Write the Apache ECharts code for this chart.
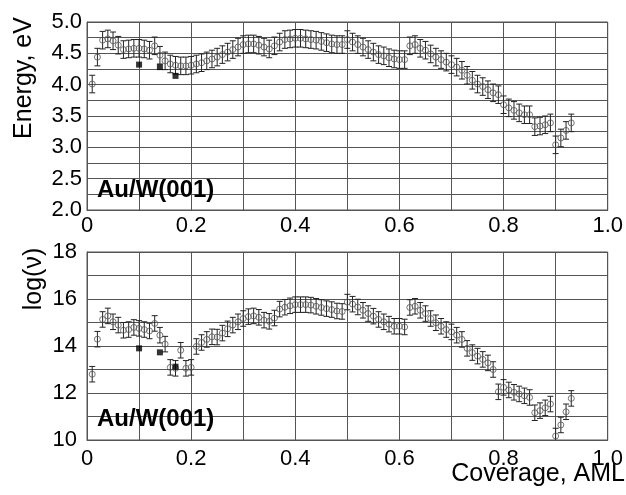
<!DOCTYPE html>
<html>
<head>
<meta charset="utf-8">
<script src="https://cdn.jsdelivr.net/npm/echarts@6/dist/echarts.min.js"></script>
<style>
html,body{margin:0;padding:0;background:#fff;}
#c{width:626px;height:495px;}
</style>
</head>
<body>
<div id="c"></div>
<script>
// ---- data ----
const coverage = [0.01,0.02,0.03,0.04,0.05,0.06,0.07,0.08,0.09,0.10,
  0.11,0.12,0.13,0.14,0.15,0.16,0.17,0.18,0.19,0.20,
  0.21,0.22,0.23,0.24,0.25,0.26,0.27,0.28,0.29,0.30,
  0.31,0.32,0.33,0.34,0.35,0.36,0.37,0.38,0.39,0.40,
  0.41,0.42,0.43,0.44,0.45,0.46,0.47,0.48,0.49,0.50,
  0.51,0.52,0.53,0.54,0.55,0.56,0.57,0.58,0.59,0.60,
  0.61,0.62,0.63,0.64,0.65,0.66,0.67,0.68,0.69,0.70,
  0.71,0.72,0.73,0.74,0.75,0.76,0.77,0.78,0.79,0.80,
  0.81,0.82,0.83,0.84,0.85,0.86,0.87,0.88,0.89,0.90,
  0.91,0.92,0.93];
const energy = [4.01,4.44,4.71,4.73,4.70,4.63,4.56,4.57,4.58,4.58,
  4.57,4.55,4.62,4.47,4.38,4.33,4.31,4.30,4.30,4.31,
  4.33,4.35,4.38,4.41,4.44,4.48,4.52,4.56,4.60,4.64,
  4.65,4.65,4.63,4.60,4.57,4.62,4.68,4.72,4.73,4.74,
  4.74,4.73,4.72,4.71,4.69,4.67,4.65,4.64,4.64,4.72,
  4.68,4.64,4.60,4.56,4.52,4.48,4.46,4.43,4.41,4.40,
  4.40,4.62,4.64,4.58,4.55,4.49,4.44,4.40,4.36,4.32,
  4.28,4.23,4.15,4.07,4.01,3.97,3.92,3.87,3.84,3.68,
  3.63,3.59,3.55,3.52,3.52,3.33,3.34,3.36,3.39,3.04,
  3.15,3.27,3.39];
const logNu = [12.80,14.29,15.13,15.28,15.03,14.89,14.67,14.70,14.79,14.75,
  14.70,14.64,14.96,14.46,14.08,13.09,13.05,13.82,13.05,13.09,
  13.98,14.15,14.28,14.39,14.38,14.55,14.73,14.89,15.03,15.17,
  15.25,15.28,15.22,15.10,15.05,15.19,15.57,15.65,15.71,15.76,
  15.76,15.76,15.74,15.69,15.64,15.59,15.55,15.49,15.47,15.87,
  15.78,15.66,15.52,15.38,15.27,15.13,15.03,14.93,14.84,14.84,
  14.81,15.64,15.69,15.52,15.38,15.17,14.99,14.84,14.70,14.60,
  14.46,14.28,13.90,13.72,13.57,13.43,13.28,13.00,12.05,12.24,
  12.13,12.03,11.96,11.88,11.81,11.16,11.25,11.37,11.53,10.17,
  10.64,11.20,11.77];
const energyErr = 0.14;
const logNuErr = 0.33;
const refX = [0.10, 0.14, 0.17];
const refEnergy = [4.32, 4.28, 4.14];
const refLogNu = [13.90, 13.73, 13.12];
const xTicks = [0, 0.2, 0.4, 0.6, 0.8, 1.0];
const energyTicks = [2.0, 2.5, 3.0, 3.5, 4.0, 4.5, 5.0];
const logNuTicks = [10, 12, 14, 16, 18];

// ---- chart ----
const FONT = '"Liberation Sans", Arial, sans-serif';
const chart = echarts.init(document.getElementById('c'), null, {renderer: 'canvas'});

function pts(ys) { return coverage.map((x, i) => [x, ys[i]]); }
function errs(ys, e) { return coverage.map((x, i) => [x, ys[i] - e, ys[i] + e]); }
function refPts(ys) { return refX.map((x, i) => [x, ys[i]]); }

function errRender(params, api) {
  const x = api.value(0);
  const p1 = api.coord([x, api.value(1)]);
  const p2 = api.coord([x, api.value(2)]);
  const w = 3;
  const st = {stroke: '#222', lineWidth: 1};
  return {
    type: 'group',
    children: [
      {type: 'line', shape: {x1: p1[0], y1: p1[1], x2: p2[0], y2: p2[1]}, style: st},
      {type: 'line', shape: {x1: p1[0] - w, y1: p1[1], x2: p1[0] + w, y2: p1[1]}, style: st},
      {type: 'line', shape: {x1: p2[0] - w, y1: p2[1], x2: p2[0] + w, y2: p2[1]}, style: st}
    ]
  };
}

const gridLine = {show: true, lineStyle: {color: '#555', width: 1}};
function xAxisCfg(idx, margin) {
  return {
    type: 'value', gridIndex: idx, min: xTicks[0], max: xTicks[xTicks.length - 1], interval: 0.2,
    axisLine: {show: true, onZero: false, lineStyle: {color: '#555'}},
    axisTick: {show: false},
    axisLabel: {color: '#000', fontSize: 22, fontFamily: FONT, margin: margin,
      formatter: v => (v === 0 ? '0' : v.toFixed(1))},
    splitLine: gridLine,
    minorTick: {show: false, splitNumber: 2},
    minorSplitLine: gridLine
  };
}
function yAxisCfg(idx, ticks, interval, margin, fmt) {
  return {
    type: 'value', gridIndex: idx, min: ticks[0], max: ticks[ticks.length - 1], interval: interval,
    axisLine: {show: true, lineStyle: {color: '#555'}},
    axisTick: {show: false},
    axisLabel: {color: '#000', fontSize: 22, fontFamily: FONT, margin: margin, formatter: fmt},
    splitLine: gridLine,
    minorTick: {show: false, splitNumber: 2},
    minorSplitLine: gridLine
  };
}

const option = {
  backgroundColor: '#fff',
  animation: false,
  grid: [
    {left: 87, top: 22, width: 524, height: 188, show: true, borderColor: '#555', borderWidth: 1, backgroundColor: 'transparent'},
    {left: 87, top: 252, width: 524, height: 188, show: true, borderColor: '#555', borderWidth: 1, backgroundColor: 'transparent'}
  ],
  xAxis: [xAxisCfg(0, 5), xAxisCfg(1, 8)],
  yAxis: [
    yAxisCfg(0, energyTicks, 0.5, 5, v => v.toFixed(1)),
    yAxisCfg(1, logNuTicks, 2, 10, v => String(v))
  ],
  series: [
    {type: 'custom', xAxisIndex: 0, yAxisIndex: 0, renderItem: errRender, data: errs(energy, energyErr), clip: true, z: 2},
    {type: 'scatter', xAxisIndex: 0, yAxisIndex: 0, data: pts(energy), symbol: 'circle', symbolSize: 6,
      itemStyle: {color: 'rgba(0,0,0,0)', borderColor: '#555', borderWidth: 1}, z: 3},
    {type: 'scatter', xAxisIndex: 0, yAxisIndex: 0, data: refPts(refEnergy), symbol: 'rect', symbolSize: 6,
      itemStyle: {color: '#000'}, z: 4},
    {type: 'custom', xAxisIndex: 1, yAxisIndex: 1, renderItem: errRender, data: errs(logNu, logNuErr), clip: true, z: 2},
    {type: 'scatter', xAxisIndex: 1, yAxisIndex: 1, data: pts(logNu), symbol: 'circle', symbolSize: 6,
      itemStyle: {color: 'rgba(0,0,0,0)', borderColor: '#555', borderWidth: 1}, z: 3},
    {type: 'scatter', xAxisIndex: 1, yAxisIndex: 1, data: refPts(refLogNu), symbol: 'rect', symbolSize: 6,
      itemStyle: {color: '#000'}, z: 4}
  ],
  graphic: [
    {type: 'text', left: 97, top: 178, z: 10,
      style: {text: 'Au/W(001)', font: 'bold 24px ' + FONT, fill: '#000'}},
    {type: 'text', left: 97, top: 407, z: 10,
      style: {text: 'Au/W(001)', font: 'bold 24px ' + FONT, fill: '#000'}},
    {type: 'text', x: 24, y: 78, rotation: Math.PI / 2, z: 10,
      style: {text: 'Energy, eV', font: '25px ' + FONT, fill: '#000', align: 'center', verticalAlign: 'middle'}},
    {type: 'text', x: 34, y: 279, rotation: Math.PI / 2, z: 10,
      style: {text: 'log(ν)', font: '25px ' + FONT, fill: '#000', align: 'center', verticalAlign: 'middle'}},
    {type: 'text', right: 1, top: 462, z: 10,
      style: {text: 'Coverage, AML', font: '25px ' + FONT, fill: '#000'}}
  ]
};
chart.setOption(option);
</script>
</body>
</html>
